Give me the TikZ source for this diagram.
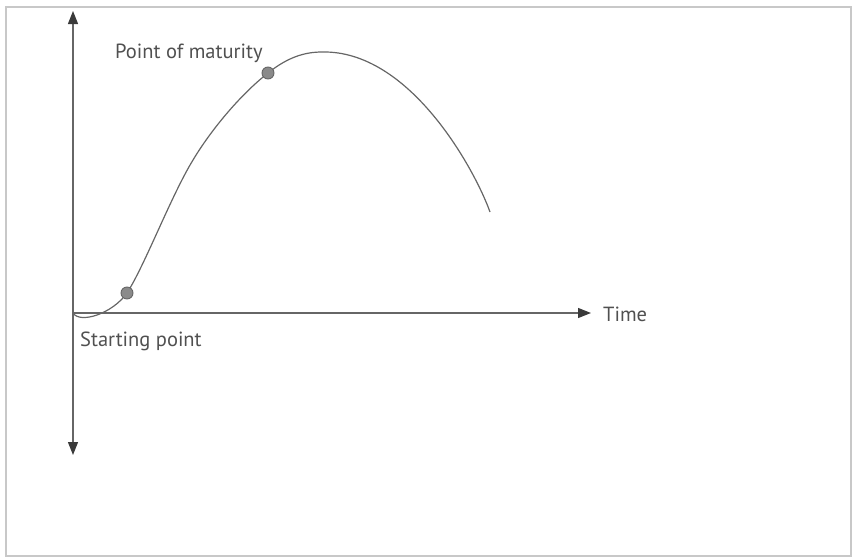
\documentclass[tikz,border=0pt]{standalone}
\usepackage{fontspec}
\setmainfont{PT Sans}
\usetikzlibrary{arrows.meta}
\definecolor{linegray}{HTML}{666666}
\definecolor{tipgray}{HTML}{3A3A3A}
\definecolor{textgray}{HTML}{505050}
\definecolor{dotfill}{HTML}{8A8A8A}
\definecolor{framegray}{HTML}{C8C8C8}
\tikzset{
  axis/.style={draw=linegray, line width=1.3pt, -{Triangle[length=13pt,width=10pt,color=tipgray]}},
  curve/.style={draw=linegray, line width=1.2pt},
  lbl/.style={text=textgray, font=\fontsize{20.5}{24}\selectfont, inner sep=0pt},
  dot/.style={circle, draw=linegray, fill=dotfill, line width=0.9pt, minimum size=12pt, inner sep=0pt},
}
\begin{document}
\begin{tikzpicture}[x=1pt,y=-1pt]
\useasboundingbox (0,0) rectangle (854,557);
\draw[framegray, line width=1.5pt] (6,7) rectangle (851,556);
\coordinate (O) at (73,313);
\coordinate (ytop) at (73,11);
\coordinate (ybot) at (73,455);
\coordinate (xend) at (591,313);
\coordinate (mid) at (193,160);
\coordinate (peak) at (322,52);
\coordinate (cend) at (490,212);
\draw[axis] (O) -- (ytop);
\draw[axis] (O) -- (ybot);
\draw[axis] (O) -- (xend);
\draw[curve] (O) .. controls (80,324) and (112,314) .. (127,293)
  .. controls (145,265) and (171,196) .. (mid)
  .. controls (211,130) and (240,95) .. (268,73)
  .. controls (288,57) and (305,52) .. (peak)
  .. controls (410,50) and (475,170) .. (cend);
\node[dot] (start) at (127,293) {};
\node[dot] (mature) at (268,73) {};
\node[lbl, anchor=base west] (time) at (603,321) {Time};
\node[lbl, anchor=base west] (startlbl) at (80,346) {Starting point};
\node[lbl, anchor=base west] (maturelbl) at (115,58) {Point of maturity};
\end{tikzpicture}
\end{document}
